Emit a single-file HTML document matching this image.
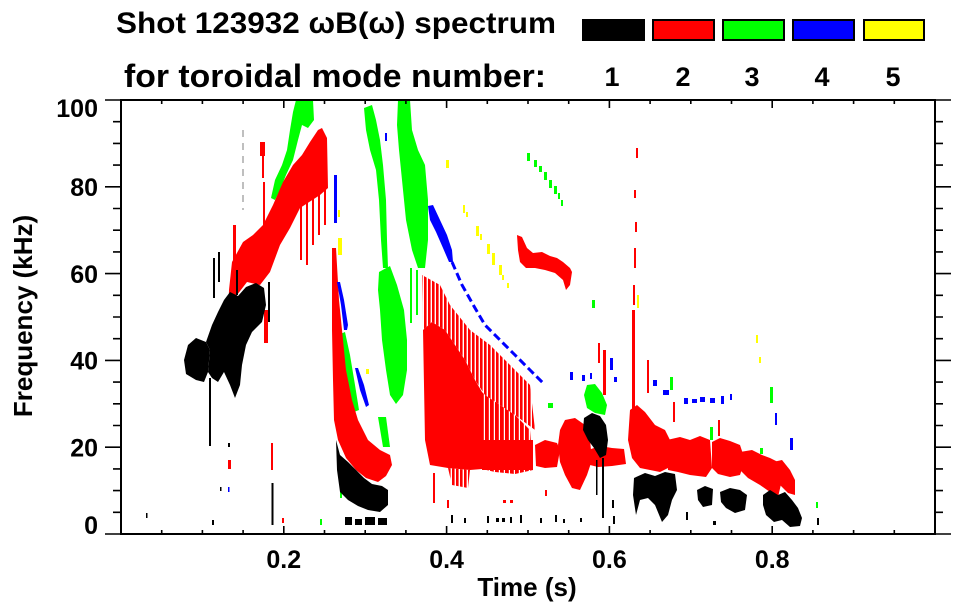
<!DOCTYPE html>
<html>
<head>
<meta charset="utf-8">
<style>
  html, body { margin: 0; padding: 0; background: #fff; }
  svg { display: block; }
  text { font-family: "Liberation Sans", Arial, sans-serif; font-weight: bold; fill: #000; }
</style>
</head>
<body>
<svg width="963" height="615" viewBox="0 0 963 615" xmlns="http://www.w3.org/2000/svg">
  <defs>
    <pattern id="rs" width="4" height="10" patternUnits="userSpaceOnUse">
      <rect x="0" y="0" width="2.6" height="10" fill="#ff0000"/>
    </pattern>
    <pattern id="rd" width="5" height="10" patternUnits="userSpaceOnUse">
      <rect x="0" y="0" width="3.8" height="10" fill="#ff0000"/>
    </pattern>
  </defs>
  <rect x="0" y="0" width="963" height="615" fill="#fff"/>

  <!-- Title -->
  <text x="116" y="33" font-size="30" textLength="440" lengthAdjust="spacingAndGlyphs">Shot 123932 ωB(ω) spectrum</text>
  <text x="124" y="87" font-size="32" textLength="422" lengthAdjust="spacingAndGlyphs">for toroidal mode number:</text>

  <!-- Legend boxes -->
  <rect x="583" y="20" width="61" height="20" fill="#000" stroke="#000" stroke-width="2"/>
  <rect x="653" y="20" width="61" height="20" fill="#ff0000" stroke="#000" stroke-width="2"/>
  <rect x="723" y="20" width="61" height="20" fill="#00ff00" stroke="#000" stroke-width="2"/>
  <rect x="793" y="20" width="61" height="20" fill="#0000ff" stroke="#000" stroke-width="2"/>
  <rect x="864" y="20" width="60" height="20" fill="#ffff00" stroke="#000" stroke-width="2"/>
  <text x="612" y="86" font-size="27" text-anchor="middle">1</text>
  <text x="683" y="86" font-size="27" text-anchor="middle">2</text>
  <text x="752" y="86" font-size="27" text-anchor="middle">3</text>
  <text x="822" y="86" font-size="27" text-anchor="middle">4</text>
  <text x="893" y="86" font-size="27" text-anchor="middle">5</text>

  <!-- ===================== DATA ===================== -->
  <line x1="243" y1="130" x2="243" y2="210" stroke="#aaa" stroke-width="1.5" stroke-dasharray="7,6"/>

  <!-- GREEN (n=3) -->
  <polygon fill="#00ff00" points="271,198 275,180 282,165 287,150 290,130 293,112 296,100 313,100 314,120 308,128 302,125 298,140 293,160 286,175 280,190 275,200"/>
  <polygon fill="#00ff00" points="364,108 372,105 376,120 380,140 383,165 386,200 387,240 388,268 383,268 381,240 379,200 376,170 370,150 366,130"/>
  <polygon fill="#00ff00" points="379,272 390,266 397,285 404,310 407,340 407,370 403,395 396,404 390,395 386,370 382,340 380,310 378,290"/>
  <polygon fill="#00ff00" points="378,417 386,417 390,447 383,447"/>
  <polygon fill="#00ff00" points="398,100 410,100 412,130 418,150 425,165 428,200 428,240 425,268 418,268 412,250 406,220 402,180 399,150 397,125"/>
  <rect x="410" y="268" width="2" height="55" fill="#00ff00"/>
  <rect x="416" y="270" width="2" height="45" fill="#00ff00"/>
  <polygon fill="#00ff00" points="338,335 345,332 350,355 355,385 359,410 354,412 348,390 342,365 339,350"/>
  <polygon fill="#00ff00" points="587,385 595,384 602,393 607,405 605,415 595,413 587,408 584,395"/>
  <g fill="#00ff00">
    <rect x="527" y="153" width="3" height="8"/>
    <rect x="534" y="160" width="3" height="7"/>
    <rect x="539" y="166" width="3" height="6"/>
    <rect x="544" y="172" width="3" height="8"/>
    <rect x="549" y="180" width="3" height="8"/>
    <rect x="554" y="186" width="3" height="8"/>
    <rect x="558" y="193" width="2" height="6"/>
    <rect x="561" y="200" width="2" height="6"/>
    <rect x="592" y="300" width="3" height="8"/>
    <rect x="670" y="377" width="3" height="13"/>
    <rect x="770" y="387" width="3" height="16"/>
    <rect x="710" y="427" width="3" height="13"/>
    <rect x="548" y="403" width="5" height="5"/>
    <rect x="275" y="205" width="3" height="8"/>
    <rect x="320" y="519" width="2" height="6"/>
    <rect x="340" y="492" width="2" height="6"/>
    <rect x="760" y="448" width="3" height="6"/>
    <rect x="816" y="502" width="2" height="6"/>
  </g>

  <!-- RED (n=2) -->
  <polygon fill="#ff0000" points="232,262 243,242 253,235 263,225 273,205 283,182 293,165 302,155 310,142 318,130 322,128 327,138 328,188 320,195 300,208 290,228 280,245 270,272 260,285 247,282 237,295 233,325 228,318 229,290"/>
  <g fill="#ff0000">
    <rect x="300" y="200" width="2" height="60"/>
    <rect x="306" y="195" width="2" height="70"/>
    <rect x="312" y="195" width="2" height="50"/>
    <rect x="318" y="190" width="2" height="45"/>
    <rect x="324" y="185" width="2" height="40"/>
    <rect x="260" y="142" width="5" height="14"/>
    <rect x="262" y="156" width="2" height="22"/>
    <rect x="263" y="182" width="2" height="90"/>
    <rect x="233" y="225" width="3" height="37"/>
    <rect x="227" y="310" width="10" height="10"/>
    <rect x="264" y="310" width="4" height="33"/>
    <rect x="271" y="443" width="2" height="27"/>
    <rect x="228" y="460" width="3" height="9"/>
    <rect x="282" y="518" width="2" height="5"/>
  </g>
  <polygon fill="#ff0000" points="332,248 336,248 339,300 342,330 346,370 352,400 358,420 368,440 380,450 390,455 392,465 386,476 378,482 366,478 356,470 346,458 338,440 334,420 333,380 332,330"/>

  <!-- big streaky red region -->
  <polygon fill="url(#rs)" points="422,275 440,285 450,305 470,330 490,345 510,365 530,385 535,430 515,415 500,405 485,395 475,380 465,360 455,345 445,330 432,322 423,330"/>
  <polygon fill="#ff0000" points="423,330 432,322 445,330 455,345 465,360 475,380 482,392 482,469 470,470 448,468 430,465 425,440"/>
  <polygon fill="url(#rd)" points="482,392 485,395 500,405 515,415 530,430 533,470 515,474 495,472 482,469"/>
  <rect x="482" y="440" width="51" height="30" fill="#ff0000"/>
  <polygon fill="url(#rs)" points="448,468 470,470 468,488 452,485"/>
  <g fill="#ff0000">
    <rect x="433" y="473" width="2" height="30"/>
    <rect x="447" y="500" width="2" height="8"/>
    <rect x="545" y="490" width="2" height="6"/>
    <rect x="503" y="500" width="3" height="3"/>
    <rect x="510" y="500" width="3" height="3"/>
  </g>
  <polygon fill="#ff0000" points="535,445 545,440 557,443 560,450 557,467 545,468 536,466"/>
  <polygon fill="#ff0000" points="560,430 565,420 575,418 585,425 590,440 592,460 587,475 580,490 572,488 565,475 560,462 558,445"/>
  <polygon fill="#ff0000" points="588,450 600,446 612,448 624,449 626,464 612,466 598,467 590,465"/>
  <polygon fill="#ff0000" points="630,410 637,405 645,412 655,425 665,430 670,440 668,468 660,472 650,470 640,468 632,458 628,440"/>
  <polygon fill="#ff0000" points="667,440 680,437 690,440 700,436 710,440 712,468 706,477 690,475 678,472 668,470"/>
  <polygon fill="#ff0000" points="712,442 720,438 730,441 740,445 745,460 740,475 730,477 718,474 712,468"/>
  <polygon fill="#ff0000" points="740,452 752,450 762,455 770,458 778,462 782,480 778,497 770,492 760,485 748,478 740,470"/>
  <polygon fill="#ff0000" points="773,462 782,460 790,470 795,480 795,495 788,493 780,485"/>
  <g fill="#ff0000">
    <rect x="632" y="310" width="3" height="100"/>
    <rect x="636" y="148" width="2" height="10"/>
    <rect x="634" y="190" width="2" height="8"/>
    <rect x="635" y="222" width="2" height="10"/>
    <rect x="634" y="248" width="2" height="20"/>
    <rect x="633" y="285" width="2" height="20"/>
    <rect x="598" y="343" width="2" height="20"/>
    <rect x="603" y="350" width="3" height="45"/>
    <rect x="647" y="360" width="2" height="33"/>
    <rect x="673" y="402" width="2" height="20"/>
    <rect x="718" y="420" width="2" height="16"/>
  </g>
  <polygon fill="#ff0000" points="517,235 522,237 527,248 533,253 542,252 550,256 557,258 563,262 570,268 572,272 570,285 566,290 563,280 555,273 545,270 535,268 526,268 520,262 518,250"/>

  <!-- BLACK (n=1) -->
  <polygon fill="#000" points="184,360 188,345 196,338 206,342 210,350 208,372 204,382 196,380 186,374"/>
  <polygon fill="#000" points="206,342 212,325 218,312 224,300 230,292 238,296 246,287 256,283 264,288 266,305 262,322 252,332 246,345 242,365 240,385 235,398 230,385 224,372 218,382 212,378 208,372 210,350"/>
  <g fill="#000">
    <rect x="209" y="378" width="2" height="68"/>
    <rect x="213" y="258" width="2" height="40"/>
    <rect x="218" y="252" width="2" height="30"/>
    <rect x="236" y="270" width="2" height="25"/>
    <rect x="268" y="282" width="2" height="40"/>
    <rect x="271.5" y="483" width="2" height="42"/>
    <rect x="146" y="513" width="1.5" height="5"/>
    <rect x="212" y="520" width="2" height="5"/>
    <rect x="228" y="443" width="2" height="4"/>
    <rect x="220" y="487" width="1.5" height="4"/>
  </g>
  <polygon fill="#000" points="336,440 340,455 348,462 356,470 364,478 372,484 382,486 388,490 388,505 380,512 368,510 358,506 348,500 340,492 337,470"/>
  <g fill="#000">
    <rect x="345" y="517" width="7" height="8"/>
    <rect x="355" y="519" width="7" height="6"/>
    <rect x="365" y="517" width="10" height="8"/>
    <rect x="378" y="518" width="9" height="7"/>
  </g>
  <polygon fill="#000" points="584,418 592,413 600,416 606,425 608,440 606,455 600,458 594,448 588,440 583,430"/>
  <g fill="#000">
    <rect x="602" y="458" width="2" height="60"/>
    <rect x="596" y="460" width="1.5" height="35"/>
  </g>
  <polygon fill="#000" points="634,478 645,473 655,476 665,472 675,474 677,490 672,500 668,515 662,522 655,505 648,498 640,500 636,515 633,495"/>
  <polygon fill="#000" points="697,490 705,486 713,489 712,505 703,507 698,500"/>
  <polygon fill="#000" points="720,492 730,488 740,490 747,495 745,510 735,513 726,508 721,502"/>
  <polygon fill="#000" points="763,495 770,490 778,495 785,492 792,500 798,508 802,518 800,526 790,527 782,520 774,522 766,515 763,505"/>
  <g fill="#000">
    <rect x="451" y="515" width="2" height="8"/>
    <rect x="464" y="518" width="2" height="5"/>
    <rect x="487" y="516" width="2" height="7"/>
    <rect x="496" y="518" width="3" height="4"/>
    <rect x="502" y="518" width="3" height="4"/>
    <rect x="510" y="517" width="2" height="6"/>
    <rect x="520" y="515" width="2" height="8"/>
    <rect x="540" y="518" width="2" height="5"/>
    <rect x="555" y="515" width="2" height="7"/>
    <rect x="563" y="519" width="2" height="4"/>
    <rect x="580" y="518" width="2" height="4"/>
    <rect x="612" y="500" width="2" height="8"/>
    <rect x="613" y="516" width="2" height="8"/>
    <rect x="686" y="512" width="2" height="8"/>
    <rect x="713" y="521" width="3" height="4"/>
    <rect x="817" y="518" width="2" height="7"/>
  </g>

  <!-- BLUE (n=4) -->
  <g fill="#0000ff">
    <rect x="334" y="175" width="3" height="48"/>
    <polygon points="337,282 340,282 344,300 348,325 347,330 344,330 341,305"/>
    <polygon points="355,368 358,368 364,385 369,405 366,407 360,390"/>
    <polygon points="428,206 433,205 440,220 447,235 452,250 453,262 449,262 443,248 436,232 430,220"/>
    <rect x="570" y="372" width="3" height="8"/>
    <rect x="582" y="375" width="3" height="6"/>
    <rect x="590" y="373" width="2" height="6"/>
    <rect x="610" y="358" width="3" height="12"/>
    <rect x="614" y="377" width="3" height="5"/>
    <rect x="653" y="380" width="4" height="6"/>
    <rect x="663" y="390" width="6" height="5"/>
    <rect x="684" y="398" width="4" height="6"/>
    <rect x="692" y="399" width="5" height="4"/>
    <rect x="700" y="397" width="5" height="5"/>
    <rect x="710" y="398" width="5" height="5"/>
    <rect x="721" y="396" width="3" height="8"/>
    <rect x="730" y="394" width="2" height="6"/>
    <rect x="775" y="413" width="2" height="12"/>
    <rect x="790" y="438" width="3" height="12"/>
    <rect x="228" y="487" width="1.5" height="5"/>
    <rect x="385" y="133" width="2" height="8"/>
  </g>
  <polyline fill="none" stroke="#0000ff" stroke-width="3" stroke-dasharray="8,4" points="452,262 462,285 475,308 485,325 500,340 515,355 530,370 543,383"/>

  <!-- YELLOW (n=5) -->
  <g fill="#ffff00">
    <rect x="463" y="205" width="2" height="8"/>
    <rect x="466" y="212" width="2" height="5"/>
    <rect x="476" y="226" width="3" height="10"/>
    <rect x="480" y="234" width="2" height="6"/>
    <rect x="487" y="244" width="3" height="10"/>
    <rect x="492" y="253" width="3" height="12"/>
    <rect x="499" y="265" width="3" height="10"/>
    <rect x="502" y="275" width="2" height="5"/>
    <rect x="507" y="283" width="2" height="5"/>
    <rect x="338" y="238" width="4" height="17"/>
    <rect x="338" y="210" width="2" height="7"/>
    <rect x="637" y="295" width="2" height="13"/>
    <rect x="366" y="369" width="3" height="5"/>
    <rect x="446" y="160" width="3" height="8"/>
    <rect x="756" y="335" width="2" height="8"/>
    <rect x="759" y="357" width="2" height="6"/>
  </g>

  <!-- ===================== AXES ===================== -->
  <rect x="121" y="100" width="814" height="434" fill="none" stroke="#000" stroke-width="2"/>
  <g stroke="#000" stroke-width="1.6" fill="none">
    <path d="M105 534H121 M113 512.3H121 M113 490.6H121 M113 468.9H121 M105 447.2H121 M113 425.5H121 M113 403.8H121 M113 382.1H121 M105 360.4H121 M113 338.7H121 M113 317H121 M113 295.3H121 M105 273.6H121 M113 251.9H121 M113 230.2H121 M113 208.5H121 M105 186.8H121 M113 165.1H121 M113 143.4H121 M113 121.7H121 M105 100H121"/>
    <path d="M935 534H951 M935 512.3H943 M935 490.6H943 M935 468.9H943 M935 447.2H951 M935 425.5H943 M935 403.8H943 M935 382.1H943 M935 360.4H951 M935 338.7H943 M935 317H943 M935 295.3H943 M935 273.6H951 M935 251.9H943 M935 230.2H943 M935 208.5H943 M935 186.8H951 M935 165.1H943 M935 143.4H943 M935 121.7H943 M935 100H951"/>
    <path d="M161.7 534V530 M202.4 534V530 M243.1 534V530 M283.8 534V526 M324.5 534V530 M365.2 534V530 M405.9 534V530 M446.6 534V526 M487.3 534V530 M528 534V530 M568.7 534V530 M609.4 534V526 M650.1 534V530 M690.8 534V530 M731.5 534V530 M772.2 534V526 M812.9 534V530 M853.6 534V530 M894.3 534V530"/>
    <path d="M161.7 100V104 M202.4 100V104 M243.1 100V104 M283.8 100V108 M324.5 100V104 M365.2 100V104 M405.9 100V104 M446.6 100V108 M487.3 100V104 M528 100V104 M568.7 100V104 M609.4 100V108 M650.1 100V104 M690.8 100V104 M731.5 100V104 M772.2 100V108 M812.9 100V104 M853.6 100V104 M894.3 100V104"/>
  </g>

  <!-- y tick labels -->
  <g font-size="25" text-anchor="end">
    <text x="98" y="117">100</text>
    <text x="98" y="196">80</text>
    <text x="98" y="283">60</text>
    <text x="98" y="369.5">40</text>
    <text x="98" y="456.5">20</text>
    <text x="98" y="534">0</text>
  </g>
  <!-- x tick labels -->
  <g font-size="25" text-anchor="middle">
    <text x="283.8" y="568">0.2</text>
    <text x="446.6" y="568">0.4</text>
    <text x="609.4" y="568">0.6</text>
    <text x="772.2" y="568">0.8</text>
  </g>

  <!-- axis titles -->
  <text x="527" y="596" font-size="26" text-anchor="middle">Time (s)</text>
  <text transform="translate(32,316) rotate(-90)" x="0" y="0" font-size="26" text-anchor="middle">Frequency (kHz)</text>
</svg>
</body>
</html>
